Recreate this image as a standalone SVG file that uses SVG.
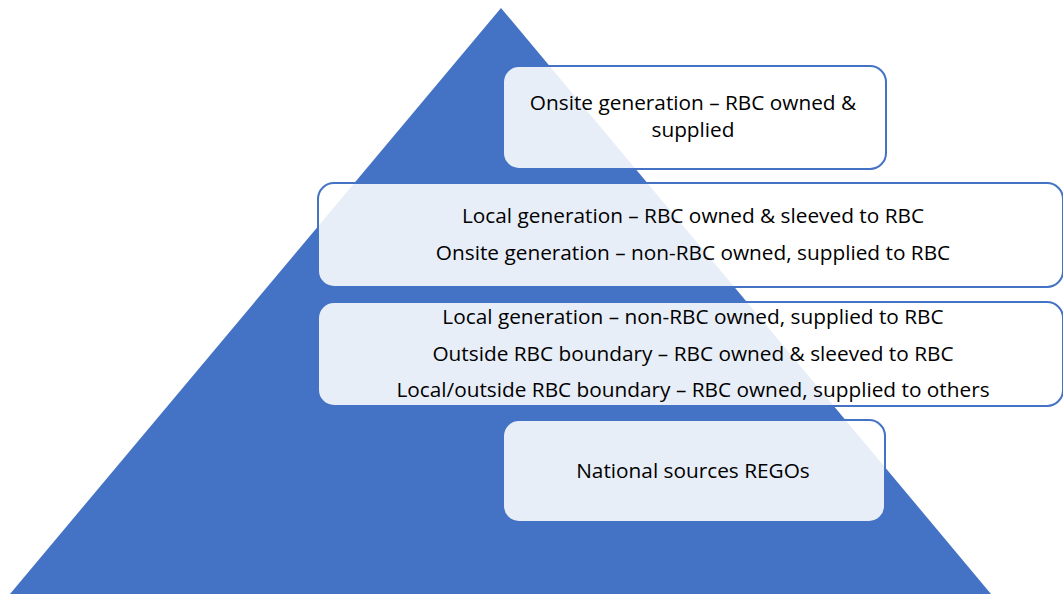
<svg xmlns="http://www.w3.org/2000/svg" width="1063" height="594" viewBox="0 0 1063 594">
<style>
.box{fill:#ffffff;fill-opacity:0.88;stroke:#4472C4;stroke-width:2}
.t{font-family:"Open Sans","Liberation Sans",sans-serif;font-size:20.8px;fill:#000;text-anchor:middle}
</style>
<rect width="1063" height="594" fill="#ffffff"/>
<g id="pyramid"><polygon points="501,8 991,594 10,594" fill="#4472C4"/></g>
<g id="node1"><rect class="box" x="503" y="66" width="383" height="103" rx="16"/>
<text class="t" x="693" y="110">Onsite generation – RBC owned &amp;</text>
<text class="t" x="693" y="137">supplied</text></g>
<g id="node2"><rect class="box" x="318" y="183" width="745" height="104" rx="16"/>
<text class="t" x="693" y="223">Local generation – RBC owned &amp; sleeved to RBC</text>
<text class="t" x="693" y="260">Onsite generation – non-RBC owned, supplied to RBC</text></g>
<g id="node3"><rect class="box" x="318" y="302" width="745" height="104" rx="16"/>
<text class="t" x="693" y="324">Local generation – non-RBC owned, supplied to RBC</text>
<text class="t" x="693" y="361">Outside RBC boundary – RBC owned &amp; sleeved to RBC</text>
<text class="t" x="693" y="397">Local/outside RBC boundary – RBC owned, supplied to others</text></g>
<g id="node4"><rect class="box" x="503" y="420" width="382" height="102" rx="16"/>
<text class="t" x="693" y="478">National sources REGOs</text></g>
<g id="connectors"></g>
</svg>
